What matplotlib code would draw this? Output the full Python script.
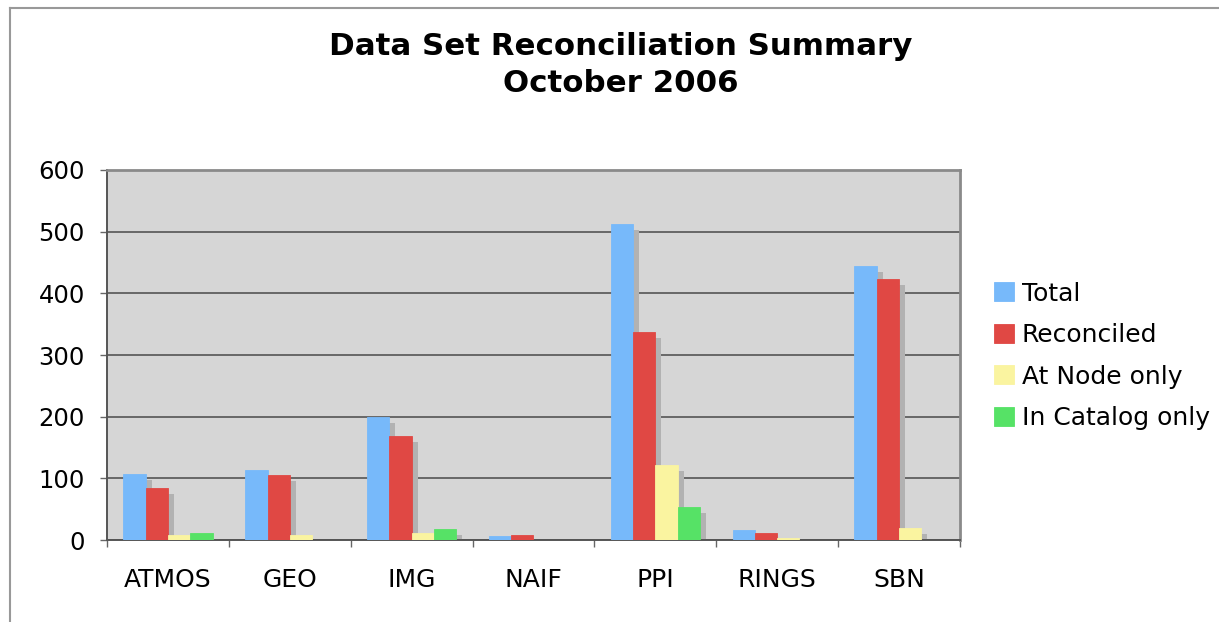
"""
python plot.py  ->  out.png
Grouped bar chart: data set reconciliation summary, October 2006.
"""
import numpy as np
import matplotlib.pyplot as plt
from matplotlib.lines import Line2D

nodes = ["ATMOS", "GEO", "IMG", "NAIF", "PPI", "RINGS", "SBN"]
series = ["Total", "Reconciled", "At Node only", "In Catalog only"]
total = [107, 114, 200, 7, 513, 16, 445]
reconciled = [84, 105, 169, 8, 337, 12, 423]
at_node = [8, 8, 11, 0, 121, 3, 20]
in_catalog = [11, 0, 18, 0, 53, 0, 0]
colors = ["#77b9fa", "#e04844", "#faf4a0", "#56e266"]

values = [total, reconciled, at_node, in_catalog]

fig = plt.figure(figsize=(12.19, 6.22), dpi=100)
ax = fig.add_axes([0.0878, 0.1318, 0.6997, 0.5949])
ax.set_facecolor("#d6d6d6")

x = np.arange(len(nodes))
w = 0.183
sh_dx, sh_dy = 0.05, 9.7   # drop shadow offset (data units)

for i, (vals, c) in enumerate(zip(values, colors)):
    pos = x + (i - 1.5) * w
    vals = np.array(vals, dtype=float)
    ax.bar(pos + sh_dx, np.clip(vals - sh_dy, 0, None), w, color="#b2b2b2",
           linewidth=0, zorder=2)
    ax.bar(pos, vals, w, color=c, edgecolor=c, linewidth=0.6, zorder=3,
           label=series[i])

ax.set_xlim(-0.5, len(nodes) - 0.5)
ax.set_ylim(0, 600)
ax.set_yticks(range(0, 601, 100))
ax.yaxis.grid(True, color="#555555", linewidth=1.2, zorder=1)
ax.set_axisbelow(True)

ax.set_xticks(x)
ax.set_xticklabels(nodes)
ax.set_xticks(np.arange(-0.5, len(nodes)), minor=True)
ax.tick_params(axis="x", which="major", length=0, pad=20, labelsize=18)
ax.tick_params(axis="x", which="minor", length=5, width=1, color="#666666",
               direction="out")
ax.tick_params(axis="y", length=5, width=1, color="#666666", pad=11,
               labelsize=17.5)

for s in ["left", "bottom"]:
    ax.spines[s].set_color("#555555")
    ax.spines[s].set_linewidth(1.4)
for s in ["top", "right"]:
    ax.spines[s].set_color("#8a8a8a")
    ax.spines[s].set_linewidth(2)

fig.text(0.509, 0.8955, "Data Set Reconciliation Summary\nOctober 2006",
         ha="center", va="center", fontsize=22.2, fontweight="bold",
         linespacing=1.38)

fig.legend(loc="center left", bbox_to_anchor=(0.797, 0.428), frameon=False,
           fontsize=18, handlelength=0.8, handleheight=0.8,
           handletextpad=0.3, labelspacing=0.7)

# outer chart border (top and left only)
fig.add_artist(Line2D([10 / 1219, 1], [1 - 8 / 622, 1 - 8 / 622],
                      transform=fig.transFigure, color="#999999", lw=1.5))
fig.add_artist(Line2D([10 / 1219, 10 / 1219], [0, 1 - 8 / 622],
                      transform=fig.transFigure, color="#999999", lw=1.5))

fig.savefig("out.png", dpi=100, facecolor="white")
